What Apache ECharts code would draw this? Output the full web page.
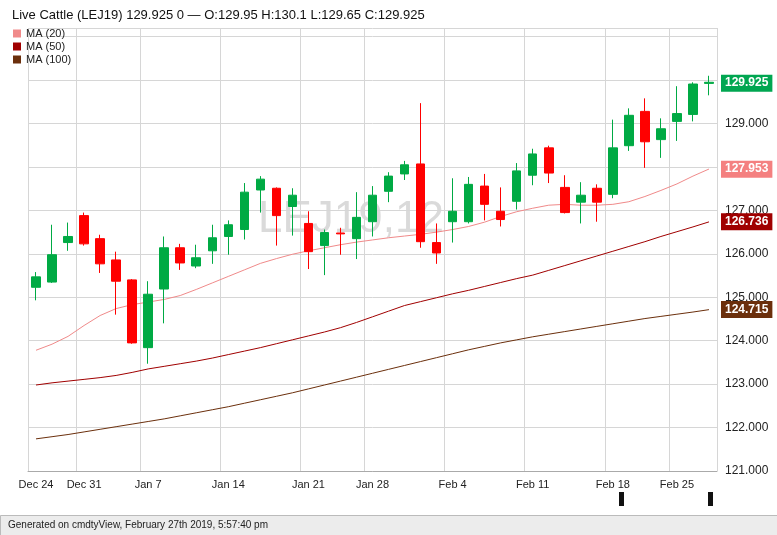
<!DOCTYPE html>
<html>
<head>
<meta charset="utf-8" />
<script src="https://cdn.jsdelivr.net/npm/echarts@6/dist/echarts.min.js"></script>
<style>
	html, body { margin: 0; padding: 0; background: #fff; }
	#chart { width: 777px; height: 535px; }
</style>
</head>
<body>
<div id="chart"></div>
<script type="text/javascript">
// trading days shown (only some carry an axis label)
var days = ['Dec 24','Dec 26','Dec 27','Dec 28','Dec 31','Jan 2','Jan 3','Jan 4','Jan 7','Jan 8','Jan 9','Jan 10','Jan 11',
	'Jan 14','Jan 15','Jan 16','Jan 17','Jan 18','Jan 22','Jan 23','Jan 24','Jan 25','Jan 28','Jan 29','Jan 30','Jan 31',
	'Feb 1','Feb 4','Feb 5','Feb 6','Feb 7','Feb 8','Feb 11','Feb 12','Feb 13','Feb 14','Feb 15','Feb 19','Feb 20',
	'Feb 21','Feb 22','Feb 25','Feb 27'];
var labelAt = {0:'Dec 24', 3:'Dec 31', 7:'Jan 7', 12:'Jan 14', 17:'Jan 21', 21:'Jan 28', 26:'Feb 4', 31:'Feb 11', 36:'Feb 18', 40:'Feb 25'};

// [open, close, low, high]
var ohlc = [
	[125.23,125.47,124.93,125.58],[125.35,125.98,125.33,126.67],[126.26,126.40,126.07,126.72],[126.88,126.23,126.19,126.95],
	[126.35,125.77,125.56,126.44],[125.86,125.37,124.60,126.05],[125.40,123.95,123.93,125.42],[123.84,125.07,123.47,125.37],
	[125.19,126.14,124.40,126.40],[126.14,125.79,125.63,126.23],[125.72,125.91,125.67,126.21],[126.07,126.37,125.77,126.67],
	[126.40,126.67,125.98,126.77],[126.56,127.42,126.33,127.63],[127.47,127.72,126.95,127.79],[127.51,126.88,126.19,127.53],
	[127.09,127.35,126.42,127.51],[126.70,126.05,125.65,126.98],[126.19,126.49,125.51,126.56],[126.48,126.46,125.98,126.60],
	[126.35,126.84,125.88,127.42],[126.74,127.35,126.40,127.56],[127.44,127.79,127.19,127.88],[127.84,128.05,127.70,128.14],
	[128.07,126.28,126.14,129.47],[126.26,126.02,125.77,126.70],[126.74,126.98,126.26,127.74],[126.74,127.60,126.70,127.77],
	[127.56,127.14,126.77,127.84],[126.98,126.79,126.63,127.53],[127.21,127.91,127.02,128.09],[127.81,128.30,127.58,128.42],
	[128.44,127.86,127.63,128.49],[127.53,126.95,126.93,127.81],[127.19,127.35,126.70,127.65],[127.51,127.19,126.74,127.60],
	[127.37,128.44,127.28,129.09],[128.49,129.19,128.37,129.35],[129.28,128.58,127.98,129.58],[128.63,128.88,128.21,129.12],
	[129.05,129.23,128.60,129.86],[129.21,129.91,129.05,129.95],[129.95,129.925,129.65,130.10]
];

var ma20 = [123.78,123.92,124.10,124.35,124.58,124.74,124.83,124.89,124.95,125.04,125.18,125.33,125.48,125.63,125.78,
	125.89,125.99,126.07,126.14,126.21,126.27,126.32,126.37,126.41,126.45,126.50,126.56,126.63,126.73,126.86,126.97,
	127.05,127.12,127.14,127.12,127.12,127.14,127.20,127.32,127.46,127.61,127.79,127.953];
var ma50 = [122.98,123.03,123.07,123.11,123.15,123.20,123.27,123.35,123.41,123.47,123.53,123.60,123.68,123.76,123.84,
	123.93,124.02,124.11,124.20,124.30,124.42,124.55,124.68,124.81,124.90,124.99,125.08,125.16,125.25,125.34,125.43,
	125.51,125.62,125.73,125.84,125.95,126.06,126.17,126.28,126.40,126.51,126.62,126.736];
var ma100 = [121.74,121.79,121.84,121.90,121.96,122.02,122.08,122.14,122.20,122.27,122.34,122.41,122.48,122.56,122.64,
	122.72,122.80,122.89,122.98,123.07,123.16,123.25,123.34,123.43,123.52,123.61,123.70,123.79,123.87,123.95,124.02,
	124.09,124.15,124.21,124.27,124.33,124.39,124.45,124.51,124.56,124.61,124.66,124.715];

var last = ohlc[ohlc.length - 1][1];

// coloured price tag on the right axis
function tag(val, bg) {
	return {
		symbol: 'none', silent: true, animation: false,
		lineStyle: { color: 'rgba(0,0,0,0)', width: 1, type: 'solid' },
		data: [{ yAxis: val }],
		label: {
			show: true, position: 'end', formatter: val.toFixed(3), color: '#fff', backgroundColor: bg,
			fontWeight: 'bold', fontSize: 12, padding: [3, 4, 2, 4], distance: 4
		}
	};
}

var candleData = ohlc.map(function (d, i) {
	// last bar is a doji drawn green in the original
	if (i === ohlc.length - 1) return { value: d, itemStyle: { color: '#00aa44', color0: '#00aa44', borderColor: '#00aa44', borderColor0: '#00aa44' } };
	return d;
});

var myChart = echarts.init(document.getElementById('chart'));

var option = {
	backgroundColor: '#fff',
	animation: false,
	title: {
		text: 'Live Cattle (LEJ19) 129.925 0 — O:129.95 H:130.1 L:129.65 C:129.925',
		left: 7, top: 4,
		textStyle: { fontSize: 13, fontWeight: 'normal', color: '#111', fontFamily: 'Liberation Sans' }
	},
	legend: {
		left: 8, top: 23, orient: 'vertical', itemGap: 2, itemWidth: 8, itemHeight: 8, icon: 'rect',
		textStyle: { fontSize: 11, color: '#222', fontFamily: 'Liberation Sans' },
		data: ['MA (20)', 'MA (50)', 'MA (100)']
	},
	graphic: [
		{ type: 'rect', left: 0, top: 515, shape: { width: 777, height: 20 }, style: { fill: '#ececec', stroke: '#bbb' } },
		{ type: 'text', left: 8, top: 520, style: { text: 'Generated on cmdtyView, February 27th 2019, 5:57:40 pm', fontSize: 10, fill: '#222', fontFamily: 'Liberation Sans' } },
		{ type: 'text', left: 258, top: 198, z: 0, style: { text: 'LEJ19,12', fontSize: 44, fill: 'rgba(150,150,150,0.35)', fontFamily: 'Liberation Sans' } },
		{ type: 'rect', left: 619, top: 492, shape: { width: 5, height: 14 }, style: { fill: '#111' } },
		{ type: 'rect', left: 708, top: 492, shape: { width: 5, height: 14 }, style: { fill: '#111' } }
	],
	grid: { left: 28, right: 60, top: 28, bottom: 64 },
	xAxis: {
		type: 'category', data: days, boundaryGap: true,
		axisLine: { lineStyle: { color: '#aaa' } },
		axisTick: { show: false },
		axisLabel: {
			interval: function (i) { return labelAt[i] !== undefined; },
			formatter: function (v, i) { return labelAt[i] || ''; },
			color: '#222', fontSize: 11, margin: 8, fontFamily: 'Liberation Sans'
		},
		splitLine: { show: true, interval: function (i) { return labelAt[i] !== undefined; }, lineStyle: { color: '#d6d6d6' } }
	},
	yAxis: {
		type: 'value', position: 'right', min: 121, max: 131.2, interval: 1, scale: true,
		axisLine: { show: false }, axisTick: { show: false },
		axisLabel: {
			color: '#222', fontSize: 12, margin: 8, fontFamily: 'Liberation Sans',
			formatter: function (v) { return v > 129.5 ? '' : v.toFixed(3); }
		},
		splitLine: { lineStyle: { color: '#d6d6d6' } }
	},
	series: [
		{
			name: 'LEJ19', type: 'candlestick', data: candleData, barWidth: 9,
			itemStyle: { color: '#00aa44', color0: '#ff0000', borderColor: '#00aa44', borderColor0: '#ff0000' },
			markLine: tag(last, '#00a651'), z: 5
		},
		{ name: 'MA (20)', type: 'line', data: ma20, symbol: 'none', color: '#f08a8a', lineStyle: { width: 1 }, markLine: tag(ma20[42], '#f48080') },
		{ name: 'MA (50)', type: 'line', data: ma50, symbol: 'none', color: '#a00000', lineStyle: { width: 1 }, markLine: tag(ma50[42], '#a00000') },
		{ name: 'MA (100)', type: 'line', data: ma100, symbol: 'none', color: '#6b2f0c', lineStyle: { width: 1 }, markLine: tag(ma100[42], '#6b2f0c') }
	]
};
myChart.setOption(option);
</script>
</body>
</html>
